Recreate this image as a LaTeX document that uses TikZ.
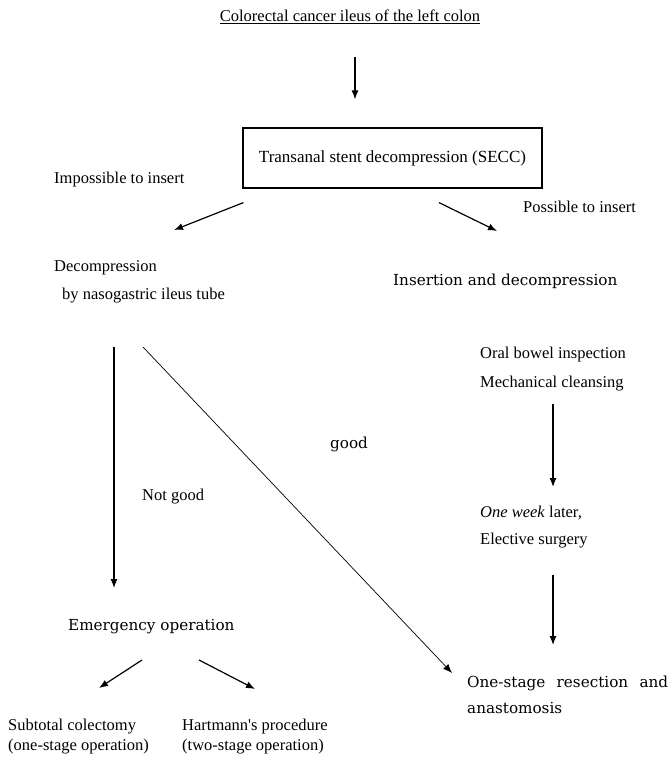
\documentclass[tikz,border=0pt]{standalone}
\usepackage{fontspec}
\setmainfont{Liberation Serif}
\newfontfamily\schfont{DejaVu Serif}
\usetikzlibrary{arrows.meta,positioning,calc}

\begin{document}
\begin{tikzpicture}[
        x=1pt, y=-1pt,
        >={Latex[length=9pt,width=7pt]},
        every node/.style={inner sep=0pt, anchor=base west},
        note/.style={font=\fontsize{16.5}{28}\selectfont, align=left},
        heavy/.style={font=\schfont\fontsize{15.2}{26}\selectfont, align=left},
        flow/.style={->, line width=1.2pt}
    ]
    \useasboundingbox (0,0) rectangle (669,759);

    \node[note, anchor=base] (title) at (350,22) {\underline{Colorectal cancer ileus of the left colon}};
    \node[note, draw, line width=1.2pt, anchor=center, minimum width=299pt, minimum height=60pt,
        font=\fontsize{17}{20}\selectfont] (secc) at (392.5,158) {Transanal stent decompression (SECC)};
    \node[note] (impossible) at (54,184) {Impossible to insert};
    \node[note] (possible) at (523,213) {Possible to insert};
    \node[note] (decomp) at (54,299) {Decompression\\\hspace*{8pt}by nasogastric ileus tube};
    \node[heavy] (insertion) at (393,285) {Insertion and decompression};

    \node[note] (notgood) at (142,500) {Not good};
    \node[heavy] (good) at (330,448) {good};

    \node[note, font=\fontsize{16.5}{29}\selectfont] (prep) at (480,387) {Oral bowel inspection\\Mechanical cleansing};
    \node[note, font=\fontsize{16.5}{27}\selectfont] (later) at (480,544) {\textit{One week} later,\\Elective surgery};

    \node[heavy] (emergency) at (68,630) {Emergency operation};
    \node[note, font=\fontsize{16.5}{20}\selectfont] (subtotal) at (8,750) {Subtotal colectomy\\(one-stage operation)};
    \node[note, font=\fontsize{16.5}{20}\selectfont] (hartmann) at (182,750) {Hartmann\textquotesingle s procedure\\(two-stage operation)};
    \node[heavy] (onestage) at (467,713) {\hbox to 201pt{One-stage\hfill resection\hfill and}\\anastomosis};

    \path[flow] ($(title.base)+(5,35)$) edge ($(secc.north)+(-37.5,-28)$)
        ($(secc.south west)+(1,14)$) edge ($(decomp.base west)+(120,-69)$)
        ($(secc.south)+(46.5,14)$) edge ($(insertion.base west)+(104,-54)$)
        ($(decomp.base west)+(60,48)$) edge ($(emergency.base west)+(46,-42)$)
        ($(decomp.base west)+(89,48)$) edge[line width=0.7pt] ($(onestage.base west)+(-15,-40)$)
        ($(prep.base west)+(73,17)$) edge ($(later.base west)+(73,-57)$)
        ($(later.base west)+(73,31)$) edge ($(onestage.base west)+(86,-68)$)
        ($(emergency.base west)+(74,30)$) edge ($(subtotal.base west)+(91,-62)$)
        ($(emergency.base west)+(131,30)$) edge ($(hartmann.base west)+(73,-61)$);
\end{tikzpicture}
\end{document}
